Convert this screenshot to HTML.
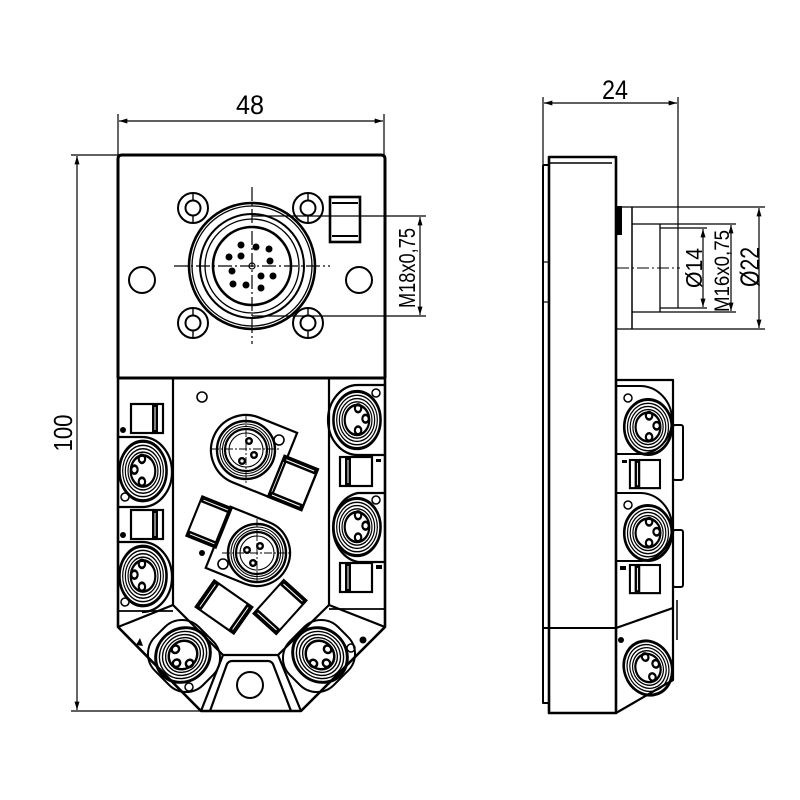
<!DOCTYPE html>
<html><head><meta charset="utf-8">
<style>
html,body{margin:0;padding:0;background:#fff}
svg{display:block}
text{font-family:"Liberation Sans Narrow","Liberation Sans",sans-serif;fill:#000}
</style></head><body>
<svg width="800" height="800" viewBox="0 0 800 800" xmlns="http://www.w3.org/2000/svg">
<defs>
<marker id="ar" viewBox="0 0 10 6" refX="10" refY="3" markerWidth="9" markerHeight="5" markerUnits="userSpaceOnUse" orient="auto-start-reverse"><path d="M0,0 L10,3 L0,6 Z" fill="#000"/></marker>
<g id="sk" fill="none" stroke="#000">
 <circle r="22" stroke-width="2.4"/>
 <circle r="19" stroke-width="1.1"/>
 <circle r="16.5" stroke-width="1.1"/>
 <circle r="14" stroke-width="1.1"/>
 <circle r="11.5" stroke-width="2"/>
 <circle cx="1" cy="-9" r="3" stroke-width="2"/>
 <circle cx="8" cy="-1" r="3" stroke-width="2"/>
 <circle cx="1" cy="8" r="3" stroke-width="2"/>
</g>
<g id="led">
 <rect x="0" y="0" width="32" height="29" fill="none" stroke="#000" stroke-width="2.2"/>
 <rect x="21" y="1" width="6" height="27" fill="#000"/>
 <line x1="24" y1="3" x2="24" y2="26" stroke="#fff" stroke-width="1"/>
</g>
<g id="sq">
 <rect x="-18" y="-22" width="36" height="44" fill="none" stroke="#000" stroke-width="2.4"/>
 <rect x="-18" y="-22" width="36" height="6" fill="#000"/>
 <rect x="-18" y="16" width="36" height="6" fill="#000"/>
 <line x1="-15" y1="-19" x2="15" y2="-19" stroke="#fff" stroke-width="1"/>
 <line x1="-15" y1="19" x2="15" y2="19" stroke="#fff" stroke-width="1"/>
</g>
<g id="cs" fill="none" stroke="#000">
 <circle r="29" stroke-width="2.4"/>
 <circle r="26" stroke-width="1.1"/>
 <circle r="23.5" stroke-width="1.1"/>
 <circle r="21" stroke-width="2.2"/>
 <circle r="17" stroke-width="1.1"/>
</g>
<g id="mh" fill="none" stroke="#000">
 <circle r="15" stroke-width="2"/>
 <circle r="7.5" stroke-width="2"/>
 <line x1="0" y1="-15" x2="0" y2="-7.5" stroke-width="1.4"/>
 <line x1="0" y1="7.5" x2="0" y2="15" stroke-width="1.4"/>
</g>
</defs>

<!-- ============ FRONT VIEW ============ -->
<g fill="none" stroke="#000" stroke-linejoin="round">
 <path d="M118,378 V159 Q118,155 122,155 H381 Q385,155 385,159 V378" stroke-width="3"/>
 <line x1="118" y1="378" x2="385" y2="378" stroke-width="3"/>
 <path d="M118,378 V627 L201,711 H301 L385,627 V378" stroke-width="2.6"/>
 <line x1="173" y1="378" x2="173" y2="605" stroke-width="2.2"/>
 <line x1="329" y1="378" x2="329" y2="605" stroke-width="2.2"/>
 <polyline points="118,627 173,605 223,655 278,655 329,605 385,627" stroke-width="2.2"/>
 <line x1="118" y1="611" x2="173" y2="611" stroke-width="1.8"/>
 <line x1="329" y1="609" x2="385" y2="609" stroke-width="1.8"/>
 <line x1="223" y1="655" x2="201" y2="711" stroke-width="2.2"/>
 <line x1="278" y1="655" x2="301" y2="711" stroke-width="2.2"/>
 <path d="M210,711 L227,664 Q229,661 232,661 H268 Q271,661 273,664 L291,711" stroke-width="2.2"/>
 <circle cx="250" cy="685" r="13" stroke-width="2"/>
</g>

<use href="#mh" x="193" y="208"/>
<use href="#mh" x="308" y="208"/>
<use href="#mh" x="193" y="323"/>
<use href="#mh" x="308" y="323"/>
<g fill="none" stroke="#000">
 <circle cx="142" cy="280" r="13" stroke-width="2"/>
 <circle cx="359" cy="280" r="13" stroke-width="2"/>
 <rect x="330" y="197" width="30" height="45" stroke-width="2.6"/>
 <line x1="332" y1="203" x2="358" y2="203" stroke-width="2"/>
 <line x1="332" y1="236" x2="358" y2="236" stroke-width="2"/>
 <circle cx="252" cy="266" r="63" stroke-width="2.6"/>
 <circle cx="252" cy="266" r="60" stroke-width="1.3"/>
 <circle cx="252" cy="266" r="52" stroke-width="2"/>
 <circle cx="252" cy="266" r="47" stroke-width="1.3"/>
 <circle cx="252" cy="266" r="39" stroke-width="2.6"/>
 <circle cx="252" cy="266" r="3" stroke-width="1.2"/>
 <line x1="252" y1="187" x2="252" y2="344" stroke-width="1.2" stroke-dasharray="14 3 2 3"/>
 <line x1="174" y1="266" x2="330" y2="266" stroke-width="1.2" stroke-dasharray="14 3 2 3"/>
</g>
<g fill="#000">
 <circle cx="241" cy="245" r="3.5"/><circle cx="256" cy="247" r="3.5"/><circle cx="269" cy="249" r="3.5"/>
 <circle cx="229" cy="257" r="3.5"/><circle cx="241" cy="256" r="3.5"/><circle cx="270" cy="261" r="3.5"/>
 <circle cx="232" cy="271" r="3.5"/><circle cx="261" cy="276" r="3.5"/><circle cx="273" cy="276" r="3.5"/>
 <circle cx="233" cy="284" r="3.5"/><circle cx="246" cy="285" r="3.5"/><circle cx="261" cy="288" r="3.5"/>
</g>

<!-- left column -->
<use href="#led" x="131" y="404"/>
<use href="#led" x="131" y="510"/>
<circle cx="123" cy="430" r="3" fill="#000"/>
<circle cx="123" cy="535" r="3" fill="#000"/>
<g fill="none" stroke="#000" stroke-width="2.2">
 <path d="M118,437 H142 A30,35 0 0 1 142,507 H118"/>
 <path d="M118,542 H142 A30,35 0 0 1 142,612"/>
 <circle cx="125" cy="497" r="4" stroke-width="1.5"/>
 <circle cx="125" cy="602" r="4" stroke-width="1.5"/>
</g>
<use href="#sk" transform="translate(143,471) scale(-1.07,1.35)"/>
<use href="#sk" transform="translate(143,576) scale(-1.07,1.35)"/>

<!-- right column -->
<g transform="translate(372,457) scale(-1,1)"><use href="#led"/></g>
<g transform="translate(372,563) scale(-1,1)"><use href="#led"/></g>
<rect x="376" y="459" width="5" height="3" fill="#000"/>
<rect x="376" y="565" width="6" height="4" fill="#000"/>
<g fill="none" stroke="#000" stroke-width="2.2">
 <path d="M385,385 H358 A30,35 0 0 0 358,455 H385"/>
 <path d="M385,493 H358 A30,35 0 0 0 358,562 H385"/>
 <circle cx="376" cy="393" r="4" stroke-width="1.5"/>
 <circle cx="376" cy="500" r="4" stroke-width="1.5"/>
</g>
<use href="#sk" transform="translate(357,420) scale(1.07,1.3)"/>
<use href="#sk" transform="translate(357,527) scale(1.07,1.3)"/>

<!-- center -->
<circle cx="202" cy="397" r="5" fill="none" stroke="#000" stroke-width="1.6"/>
<g transform="translate(246,450) rotate(22)">
 <path d="M0,-35 H41 V35 H0 A35,35 0 0 1 0,-35 Z" fill="none" stroke="#000" stroke-width="2.2"/>
</g>
<use href="#cs" x="246" y="450"/>
<g stroke="#000" stroke-width="0.9" stroke-dasharray="8 2 2 2">
 <line x1="211" y1="449" x2="281" y2="449"/><line x1="246" y1="415" x2="246" y2="484"/>
</g>
<g fill="#000">
 <circle cx="249" cy="441" r="4"/><circle cx="254" cy="455" r="4"/><circle cx="242" cy="461" r="4"/>
</g>
<g fill="#fff"><circle cx="249" cy="441" r="1.6"/><circle cx="254" cy="455" r="1.6"/><circle cx="242" cy="461" r="1.6"/></g>
<circle cx="279" cy="440" r="5" fill="none" stroke="#000" stroke-width="1.6"/>
<use href="#sq" transform="translate(293,483) rotate(22)"/>

<g transform="translate(257,553) rotate(22)">
 <path d="M0,-33 H-42 V33 H0 A33,33 0 0 0 0,-33 Z" fill="none" stroke="#000" stroke-width="2.2"/>
</g>
<use href="#cs" x="257" y="553"/>
<g stroke="#000" stroke-width="0.9" stroke-dasharray="8 2 2 2">
 <line x1="222" y1="553" x2="292" y2="553"/><line x1="257" y1="519" x2="257" y2="588"/>
</g>
<g fill="#000">
 <circle cx="260" cy="546" r="4"/><circle cx="247" cy="550" r="4"/><circle cx="253" cy="563" r="4"/>
</g>
<g fill="#fff"><circle cx="260" cy="546" r="1.6"/><circle cx="247" cy="550" r="1.6"/><circle cx="253" cy="563" r="1.6"/></g>
<circle cx="223" cy="564" r="5" fill="none" stroke="#000" stroke-width="1.6"/>
<circle cx="202" cy="553" r="3" fill="#000"/>
<use href="#sq" transform="translate(209,522) rotate(22) scale(0.88,0.96)"/>
<use href="#sq" transform="translate(224,607) rotate(-55) scale(0.9,1.05)"/>
<use href="#sq" transform="translate(280,607) rotate(42) scale(0.85,1.02)"/>

<!-- bottom connectors -->
<g>
 <rect x="-34" y="-31" width="68" height="62" rx="24" transform="translate(184,656) rotate(45)" fill="none" stroke="#000" stroke-width="2"/>
 <use href="#sk" transform="translate(183,655) rotate(135) scale(1.3,1.18)"/>
 <circle cx="189" cy="687" r="4" fill="none" stroke="#000" stroke-width="1.5"/>
 <path d="M136,645 L140,638 L143,646 Z" fill="#000"/>
</g>
<g transform="translate(503,0) scale(-1,1)">
 <rect x="-34" y="-31" width="68" height="62" rx="24" transform="translate(184,656) rotate(45)" fill="none" stroke="#000" stroke-width="2"/>
 <use href="#sk" transform="translate(183,655) rotate(135) scale(1.3,1.18)"/>
</g>
<circle cx="351" cy="648" r="4" fill="none" stroke="#000" stroke-width="1.5"/>
<circle cx="363" cy="640" r="3.5" fill="#000"/>

<!-- front dimensions -->
<g stroke="#000" stroke-width="1.2" fill="none">
 <line x1="118" y1="114" x2="118" y2="155"/>
 <line x1="384" y1="114" x2="384" y2="155"/>
 <line x1="119" y1="121" x2="383" y2="121" marker-start="url(#ar)" marker-end="url(#ar)"/>
 <line x1="71" y1="155" x2="118" y2="155"/>
 <line x1="71" y1="711" x2="201" y2="711"/>
 <line x1="77" y1="156" x2="77" y2="710" marker-start="url(#ar)" marker-end="url(#ar)"/>
 <line x1="252" y1="216" x2="426" y2="216"/>
 <line x1="252" y1="316" x2="426" y2="316"/>
 <line x1="420" y1="217" x2="420" y2="315" marker-start="url(#ar)" marker-end="url(#ar)"/>
</g>
<text x="250" y="114" font-size="27" text-anchor="middle" textLength="28" lengthAdjust="spacingAndGlyphs">48</text>
<text transform="translate(72,433) rotate(-90)" font-size="26" text-anchor="middle" textLength="37" lengthAdjust="spacingAndGlyphs">100</text>
<text transform="translate(415,268) rotate(-90)" font-size="23" text-anchor="middle" textLength="80" lengthAdjust="spacingAndGlyphs">M18x0,75</text>

<!-- ============ SIDE VIEW ============ -->
<g fill="none" stroke="#000" stroke-linejoin="round">
 <path d="M543,165 H549 M543,165 V703 H549" stroke-width="2"/>
 <path d="M549,157 H616 V713 H549 Z" stroke-width="2.6"/>
 <line x1="549" y1="163" x2="612" y2="163" stroke-width="1.4"/>
 <line x1="543" y1="262" x2="549" y2="262" stroke-width="1.2"/>
 <line x1="543" y1="302" x2="549" y2="302" stroke-width="1.2"/>
 <line x1="543" y1="628" x2="616" y2="628" stroke-width="2"/>
 <line x1="617" y1="207" x2="765" y2="207" stroke-width="1.3"/>
 <line x1="617" y1="329" x2="765" y2="329" stroke-width="1.3"/>
 <line x1="632" y1="207" x2="632" y2="329" stroke-width="1.5"/>
 <line x1="632" y1="224" x2="736" y2="224" stroke-width="1.2"/>
 <line x1="632" y1="312" x2="736" y2="312" stroke-width="1.2"/>
 <line x1="660" y1="224" x2="660" y2="312" stroke-width="1.3"/>
 <line x1="660" y1="228" x2="707" y2="228" stroke-width="1.2"/>
 <line x1="660" y1="308" x2="707" y2="308" stroke-width="1.2"/>
 <line x1="678" y1="97" x2="678" y2="308" stroke-width="1.2"/>
 <line x1="543" y1="97" x2="543" y2="165" stroke-width="1.2"/>
 <line x1="617" y1="268" x2="680" y2="268" stroke-width="1" stroke-dasharray="12 3 2 3"/>
 <line x1="544" y1="103" x2="677" y2="103" stroke-width="1.2" marker-start="url(#ar)" marker-end="url(#ar)"/>
 <line x1="703" y1="229" x2="703" y2="307" stroke-width="1.2" marker-start="url(#ar)" marker-end="url(#ar)"/>
 <line x1="731" y1="225" x2="731" y2="311" stroke-width="1.2" marker-start="url(#ar)" marker-end="url(#ar)"/>
 <line x1="759" y1="208" x2="759" y2="328" stroke-width="1.2" marker-start="url(#ar)" marker-end="url(#ar)"/>
 <path d="M616,380 H673 V608" stroke-width="2.2"/>
 <path d="M616,628 L673,608 V680 L616,713" stroke-width="2.2"/>
 <line x1="677" y1="600" x2="677" y2="640" stroke-width="1.5"/>
 <rect x="673" y="425" width="10" height="55" rx="2" stroke-width="2"/>
 <rect x="673" y="530" width="10" height="57" rx="2" stroke-width="2"/>
 <path d="M616,386 H640 A32,34 0 0 1 640,454 H616" stroke-width="2"/>
 <path d="M616,493 H640 A32,34 0 0 1 640,561 H616" stroke-width="2"/>
 <circle cx="628" cy="398" r="4" stroke-width="1.5"/>
 <circle cx="628" cy="505" r="4" stroke-width="1.5"/>
</g>
<rect x="617" y="206" width="5" height="29" fill="#000"/>
<use href="#sk" transform="translate(648,427) scale(1.08,1.25)"/>
<use href="#sk" transform="translate(648,533) scale(1.08,1.25)"/>
<use href="#sk" transform="translate(648,668) rotate(-20) scale(1.08,1.25)"/>
<g transform="translate(660,460) scale(-1,1)"><use href="#led" transform="scale(0.94,0.97)"/></g>
<g transform="translate(660,565) scale(-1,1)"><use href="#led" transform="scale(0.94,0.97)"/></g>
<rect x="622" y="460" width="5" height="3" fill="#000"/>
<rect x="620" y="566" width="6" height="4" fill="#000"/>
<circle cx="621" cy="640" r="3" fill="#000"/>

<text x="615" y="99" font-size="27" text-anchor="middle" textLength="26" lengthAdjust="spacingAndGlyphs">24</text>
<text transform="translate(702,268) rotate(-90)" font-size="23" text-anchor="middle" textLength="40" lengthAdjust="spacingAndGlyphs">Ø14</text>
<text transform="translate(729,271) rotate(-90)" font-size="21" text-anchor="middle" textLength="82" lengthAdjust="spacingAndGlyphs">M16x0,75</text>
<text transform="translate(759,267) rotate(-90)" font-size="27" text-anchor="middle" textLength="40" lengthAdjust="spacingAndGlyphs">Ø22</text>
</svg>
</body></html>
